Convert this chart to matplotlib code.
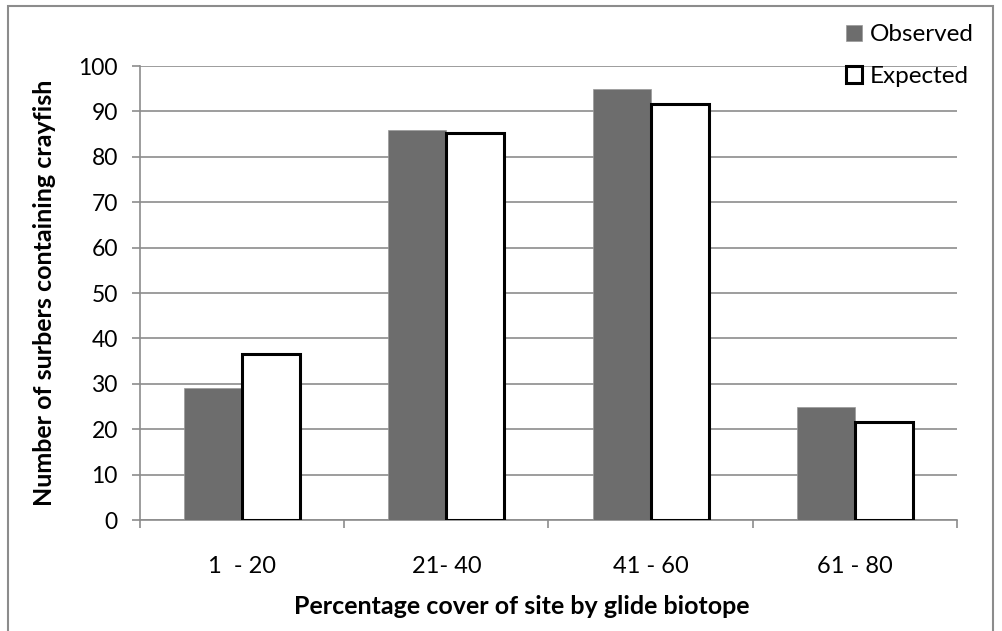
import numpy as np
import matplotlib
matplotlib.use("Agg")
import matplotlib.pyplot as plt
from matplotlib.patches import Rectangle

plt.rcParams['font.family'] = ['Lato', 'DejaVu Sans']

categories = ['1  - 20', '21- 40', '41 - 60', '61 - 80']
observed = [29, 86, 95, 25]
expected = [36.5, 85.3, 91.7, 21.5]

grid_gray = '#8c8c8c'
bar_gray = '#6d6d6d'

fig = plt.figure(figsize=(10.02, 6.31), dpi=100)
ax = fig.add_axes([0.1397, 0.1759, 0.8153, 0.7195])

# outer chart frame
fig.patches.append(Rectangle((8 / 1002, -0.05), 985 / 1002, 1 - 6 / 631 + 0.05,
                             transform=fig.transFigure, fill=False,
                             edgecolor='#8c8c8c', linewidth=1.5))

x = np.arange(len(categories)) + 0.5
w = 0.284
ax.bar(x - w / 2, observed, w, color=bar_gray, edgecolor='#999999', linewidth=0.5,
       label='Observed', zorder=3)
ax.bar(x + w / 2, expected, w, color='white', edgecolor='black', linewidth=2.2,
       label='Expected', zorder=3)

ax.set_xlim(0, 4)
ax.set_ylim(0, 100)
ax.set_yticks(range(0, 101, 10))
ax.yaxis.grid(True, color=grid_gray, linewidth=1.2, zorder=0)
ax.set_axisbelow(True)

ax.set_xticks(x)
ax.set_xticklabels(categories)
ax.set_xticks(range(5), minor=True)
ax.tick_params(axis='x', which='major', length=0, pad=26, labelsize=17)
ax.tick_params(axis='x', which='minor', length=6, width=1.2, color=grid_gray, direction='out')
ax.tick_params(axis='y', length=6, width=1.2, color=grid_gray, direction='out', pad=10,
               labelsize=16.5)

for side in ['top', 'right']:
    ax.spines[side].set_visible(False)
for side in ['left', 'bottom']:
    ax.spines[side].set_color(grid_gray)
    ax.spines[side].set_linewidth(1.2)

ax.set_xlabel('Percentage cover of site by glide biotope', fontsize=18,
              fontweight='bold', labelpad=12)
ax.xaxis.set_label_coords(0.4676, -0.165)
ax.set_ylabel('Number of surbers containing crayfish', fontsize=18,
              fontweight='bold', labelpad=16)

leg = ax.legend(loc='upper right', bbox_to_anchor=(1.047, 1.14), frameon=False,
                fontsize=17.5, handlelength=0.65, handleheight=0.65, handletextpad=0.3,
                labelspacing=0.85)

fig.savefig('out.png', dpi=100)
